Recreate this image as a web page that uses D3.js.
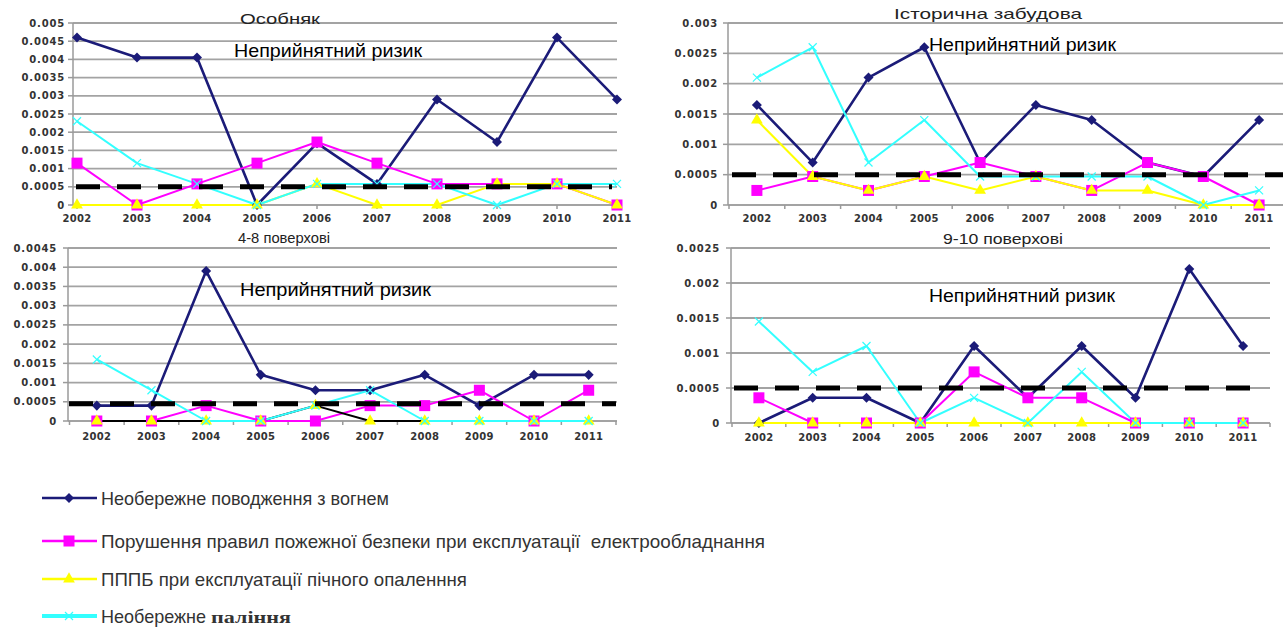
<!DOCTYPE html>
<html><head><meta charset="utf-8">
<script src="https://cdn.jsdelivr.net/npm/d3@7"></script>
<style>body{margin:0;background:#fff}svg{display:block}text{white-space:pre}</style>
</head><body>
<svg id="c" width="1283" height="632"></svg>
<script>
// ---------- DATA ----------
const years = ["2002","2003","2004","2005","2006","2007","2008","2009","2010","2011"];
const seriesNames = [
  "Необережне поводження з вогнем",
  "Порушення правил пожежної безпеки при експлуатації  електрообладнання",
  "ПППБ при експлуатації пічного опаленння",
  "Необережне "
];
const seriesNameTail = "палiння";
const panelTitles = ["Особняк", "Історична забудова", "4-8 поверхові", "9-10 поверхові"];
const annotationText = "Неприйнятний ризик";
const thresholds = [0.0005, 0.0005, 0.00045, 0.0005];

// Особняк
const osFire  = [0.0046, 0.00405, 0.00405, 0, 0.0017, 0.00058, 0.0029, 0.00173, 0.0046, 0.0029];
const osElec  = [0.00115, 0, 0.00058, 0.00115, 0.00173, 0.00115, 0.00058, 0.00058, 0.00058, 0];
const osStove = [0, 0, 0, 0, 0.00058, 0, 0, 0.00058, 0.00058, 0];
const osSmoke = [0.0023, 0.00115, 0.00058, 0, 0.00058, 0.00058, 0.00058, 0, 0.00058, 0.00058];
// Історична забудова
const hiFire  = [0.00165, 0.0007, 0.0021, 0.0026, 0.0007, 0.00165, 0.0014, 0.0007, 0.00047, 0.0014];
const hiElec  = [0.00024, 0.00047, 0.00024, 0.00047, 0.0007, 0.00047, 0.00024, 0.0007, 0.00047, 0];
const hiStove = [0.0014, 0.00047, 0.00024, 0.00047, 0.00024, 0.00047, 0.00024, 0.00024, 0, 0];
const hiSmoke = [0.0021, 0.0026, 0.0007, 0.0014, 0.00047, 0.00047, 0.00047, 0.00047, 0, 0.00024];
// 4-8 поверхові
const midFire  = [0.0004, 0.0004, 0.0039, 0.0012, 0.0008, 0.0008, 0.0012, 0.0004, 0.0012, 0.0012];
const midElec  = [0, 0, 0.0004, 0, 0, 0.0004, 0.0004, 0.0008, 0, 0.0008];
const midStove = [0, 0, 0, 0, 0.0004, 0, 0, 0, 0, 0];
const midSmoke = [0.0016, 0.0008, 0, 0, 0.0004, 0.0008, 0, 0, 0, 0];
// 9-10 поверхові
const tallFire  = [0, 0.00036, 0.00036, 0, 0.0011, 0.00036, 0.0011, 0.00036, 0.0022, 0.0011];
const tallElec  = [0.00036, 0, 0, 0, 0.00073, 0.00036, 0.00036, 0, 0, 0];
const tallStove = [0, 0, 0, 0, 0, 0, 0, 0, 0, 0];
const tallSmoke = [0.00145, 0.00073, 0.0011, 0, 0.00036, 0, 0.00073, 0, 0, 0];

// tick labels
const ticks1 = [0, 0.0005, 0.001, 0.0015, 0.002, 0.0025, 0.003, 0.0035, 0.004, 0.0045, 0.005];
const ticks2 = [0, 0.0005, 0.001, 0.0015, 0.002, 0.0025, 0.003];
const ticks3 = [0, 0.0005, 0.001, 0.0015, 0.002, 0.0025, 0.003, 0.0035, 0.004, 0.0045];
const ticks4 = [0, 0.0005, 0.001, 0.0015, 0.002, 0.0025];

// ---------- STYLE / LAYOUT ----------
const colors = ["#1b1b78", "#ff00ff", "#ffff00", "#33ffff"];
const widths = [2.6, 2, 2, 2];
const markers = ["diamond", "square", "triangle", "cross"];

const panels = [
  {data:[osFire,osElec,osStove,osSmoke], ticks:ticks1, mode:"point", range:[77,617], axisX:73, top:23, bottom:205, gridRight:617,
   labelX:65, xLabelY:222, title:{x:280,y:24,w:80}, ann:{x:234,y:57,w:188}, dash:[76,612], lineOverride:{}},
  {data:[hiFire,hiElec,hiStove,hiSmoke], ticks:ticks2, mode:"band", range:[729,1287], axisX:728, top:23, bottom:205, gridRight:1283,
   labelX:718, xLabelY:222, title:{x:988,y:19,w:188}, ann:{x:929,y:51,w:187}, dash:[732,1283], lineOverride:{}},
  {data:[midFire,midElec,midStove,midSmoke], ticks:ticks3, mode:"band", range:[69.5,616], axisX:68, top:248, bottom:421, gridRight:617,
   labelX:57, xLabelY:440, title:{x:284,y:243,w:92}, ann:{x:240,y:296,w:191}, dash:[69,616], lineOverride:{2:"#000"}},
  {data:[tallFire,tallElec,tallStove,tallSmoke], ticks:ticks4, mode:"band", range:[732,1270], axisX:731, top:248, bottom:423, gridRight:1270,
   labelX:720, xLabelY:441, title:{x:1003,y:244,w:120}, ann:{x:929,y:302,w:186}, dash:[734,1262], lineOverride:{}}
];

const svg = d3.select("#c");
const tickFont = "'DejaVu Sans', sans-serif";

function drawMarker(g, type, x, y, color) {
  if (type === "diamond") {
    g.append("path").attr("d", d3.symbol(d3.symbolDiamond2, 64)()).attr("transform", `translate(${x},${y})`).attr("fill", color);
  } else if (type === "square") {
    g.append("rect").attr("x", x-5.5).attr("y", y-5.5).attr("width", 11).attr("height", 11).attr("fill", color);
  } else if (type === "triangle") {
    g.append("path").attr("d", d3.symbol(d3.symbolTriangle, 60)()).attr("transform", `translate(${x},${y})`).attr("fill", color);
  } else {
    g.append("path").attr("d", `M${x-4},${y-4}L${x+4},${y+4}M${x-4},${y+4}L${x+4},${y-4}`).attr("stroke", color).attr("stroke-width", 1.2);
  }
}

panels.forEach((p, pi) => {
  const g = svg.append("g");
  const ymax = p.ticks[p.ticks.length-1];
  const y = d3.scaleLinear().domain([0, ymax]).range([p.bottom, p.top]);
  let xs, bounds;
  if (p.mode === "point") {
    const sc = d3.scalePoint().domain(years).range(p.range);
    xs = d => sc(d);
    bounds = years.map(d => sc(d));
  } else {
    const sc = d3.scaleBand().domain(years).range(p.range);
    xs = d => sc(d) + sc.bandwidth()/2;
    bounds = years.map(d => sc(d)).concat([sc(years[years.length-1]) + sc.bandwidth()]).filter(v => v <= p.gridRight);
  }
  // gridlines
  g.selectAll(".grid").data(p.ticks).enter().append("line")
    .attr("x1", p.axisX).attr("x2", p.gridRight)
    .attr("y1", d => y(d)).attr("y2", d => y(d))
    .attr("stroke", "#a3a3a3").attr("stroke-width", 1.8);
  // y axis
  g.append("line").attr("x1", p.axisX).attr("x2", p.axisX).attr("y1", p.top).attr("y2", p.bottom)
    .attr("stroke", "#9a9a9a").attr("stroke-width", 1.5);
  g.selectAll(".yt").data(p.ticks).enter().append("line")
    .attr("x1", p.axisX-5).attr("x2", p.axisX).attr("y1", d => y(d)).attr("y2", d => y(d))
    .attr("stroke", "#9a9a9a").attr("stroke-width", 1.5);
  g.selectAll(".yl").data(p.ticks).enter().append("text")
    .attr("x", p.labelX).attr("y", d => y(d) + 3.5)
    .attr("text-anchor", "end").attr("font-family", tickFont).attr("font-weight", "bold")
    .attr("font-size", 10).attr("letter-spacing", 0.8).attr("fill", "#333")
    .text(d => String(d));
  // x ticks
  g.selectAll(".xt").data(bounds).enter().append("line")
    .attr("x1", d => d).attr("x2", d => d).attr("y1", p.bottom).attr("y2", p.bottom+4)
    .attr("stroke", "#9a9a9a").attr("stroke-width", 1.5);
  g.selectAll(".xl").data(years).enter().append("text")
    .attr("x", d => xs(d)).attr("y", p.xLabelY)
    .attr("text-anchor", "middle").attr("font-family", tickFont).attr("font-weight", "bold")
    .attr("font-size", 10).attr("letter-spacing", 0.3).attr("fill", "#333")
    .text(d => d);
  // series
  p.data.forEach((vals, si) => {
    const pts = vals.map((v, i) => [xs(years[i]), y(v)]);
    g.append("path").attr("d", d3.line()(pts)).attr("fill", "none")
      .attr("stroke", p.lineOverride[si] || colors[si]).attr("stroke-width", widths[si])
      .attr("stroke-linejoin", "round");
  });
  p.data.forEach((vals, si) => {
    vals.forEach((v, i) => drawMarker(g, markers[si], xs(years[i]), y(v), colors[si]));
  });
  // threshold dashed line
  g.append("line").attr("x1", p.dash[0]).attr("x2", p.dash[1])
    .attr("y1", y(thresholds[pi])).attr("y2", y(thresholds[pi]))
    .attr("stroke", "#000").attr("stroke-width", 5).attr("stroke-dasharray", "24,17");
  // title
  g.append("text").attr("x", p.title.x).attr("y", p.title.y).attr("text-anchor", "middle")
    .attr("font-family", "'Liberation Sans', Arial, sans-serif").attr("font-size", 15).attr("fill", "#222")
    .attr("textLength", p.title.w).attr("lengthAdjust", "spacingAndGlyphs")
    .text(panelTitles[pi]);
  // annotation
  g.append("text").attr("x", p.ann.x).attr("y", p.ann.y)
    .attr("font-family", "'Liberation Sans', Arial, sans-serif").attr("font-size", 19).attr("fill", "#000")
    .attr("textLength", p.ann.w).attr("lengthAdjust", "spacingAndGlyphs")
    .text(annotationText);
});

// ---------- LEGEND ----------
const legendRows = [498, 541, 579, 616];
const legendWidths = [288, 664, 366, 110];
const leg = svg.append("g");
seriesNames.forEach((name, i) => {
  const yy = legendRows[i];
  leg.append("line").attr("x1", 42).attr("x2", 97).attr("y1", yy).attr("y2", yy)
    .attr("stroke", colors[i]).attr("stroke-width", i === 3 ? 4 : 2.5);
  drawMarker(leg, markers[i], 69, yy, colors[i]);
  const t = leg.append("text").attr("x", 101).attr("y", yy + 7)
    .attr("font-family", "'Liberation Sans', Arial, sans-serif").attr("font-size", 19).attr("fill", "#333");
  t.append("tspan").attr("textLength", legendWidths[i]).attr("lengthAdjust", "spacingAndGlyphs").text(name);
  if (i === 3) {
    t.append("tspan").attr("font-family", "'Liberation Serif', serif").attr("font-weight", "bold")
      .attr("font-size", 17).attr("textLength", 80).attr("lengthAdjust", "spacingAndGlyphs").text(seriesNameTail);
  }
});
</script>
</body></html>
